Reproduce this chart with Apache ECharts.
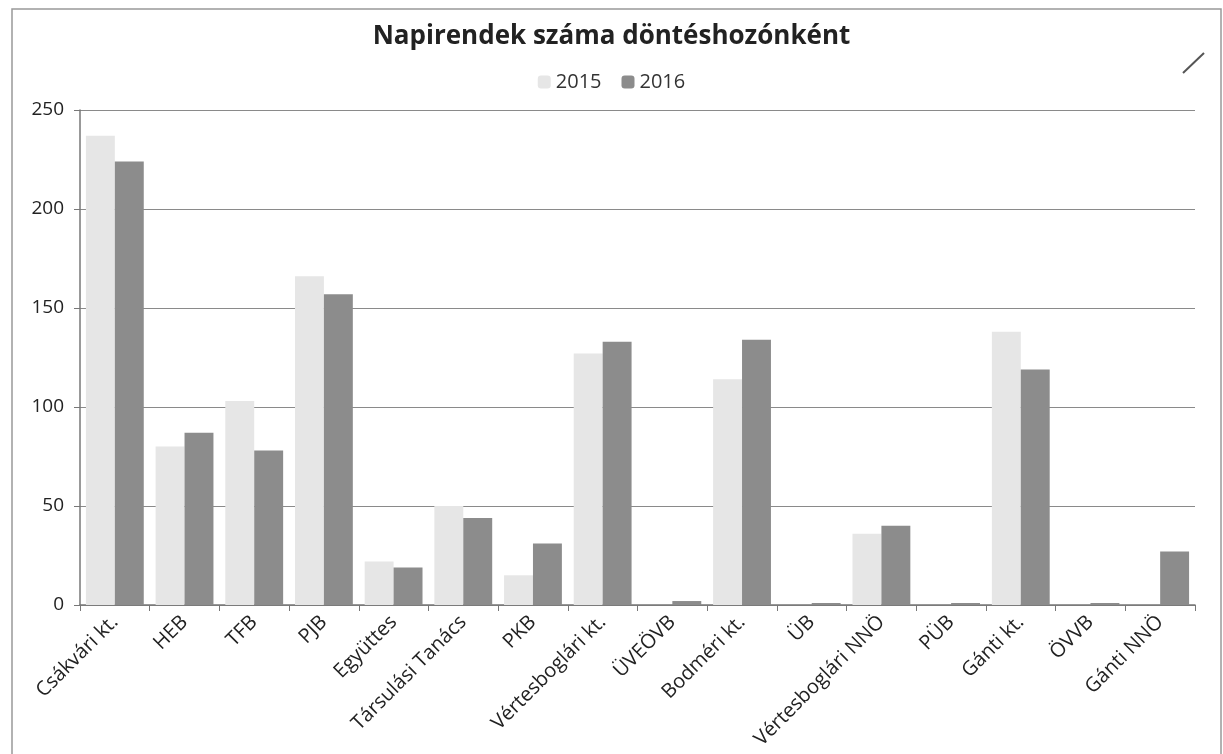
<!DOCTYPE html>
<html>
<head>
<meta charset="utf-8">
<script src="https://cdn.jsdelivr.net/npm/echarts@6/dist/echarts.min.js"></script>
<style>
html, body { margin: 0; padding: 0; background: #fff; }
#chart { width: 1223px; height: 754px; }
</style>
</head>
<body>
<div id="chart"></div>
<script>
var categories = ['Csákvári kt.', 'HEB', 'TFB', 'PJB', 'Együttes', 'Társulási Tanács', 'PKB',
	'Vértesboglári kt.', 'ÜVEÖVB', 'Bodméri kt.', 'ÜB', 'Vértesboglári NNÖ', 'PÜB',
	'Gánti kt.', 'ÖVVB', 'Gánti NNÖ'];
var values2015 = [237, 80, 103, 166, 22, 50, 15, 127, 0, 114, 0, 36, 0, 138, 0, 0];
var values2016 = [224, 87, 78, 157, 19, 44, 31, 133, 2, 134, 1, 40, 1, 119, 1, 27];
var yTicks = [0, 50, 100, 150, 200, 250];

var font = '"Open Sans", "Noto Sans", sans-serif';
var myChart = echarts.init(document.getElementById('chart'));
var option = {
	backgroundColor: '#fff',
	color: ['#e6e6e6', '#8c8c8c'],
	title: {
		text: 'Napirendek száma döntéshozónként',
		left: 'center',
		top: 19,
		textStyle: { fontFamily: font, fontSize: 26, fontWeight: 'bold', color: '#222' }
	},
	legend: {
		data: ['2015', '2016'],
		top: 67,
		left: 'center',
		itemWidth: 13,
		itemHeight: 13,
		itemGap: 20,
		textStyle: { fontFamily: font, fontSize: 20, color: '#333' }
	},
	grid: { left: 80, right: 28, top: 110, bottom: 149 },
	xAxis: {
		type: 'category',
		data: categories,
		axisLine: { lineStyle: { color: '#777', width: 1.5 } },
		axisTick: { show: true, alignWithLabel: false, length: 6, lineStyle: { color: '#777' } },
		axisLabel: { rotate: 45, interval: 0, fontFamily: font, fontSize: 20, color: '#222', margin: 14 }
	},
	yAxis: {
		type: 'value',
		min: yTicks[0],
		max: yTicks[yTicks.length - 1],
		interval: yTicks[1] - yTicks[0],
		axisLine: { show: true, lineStyle: { color: '#777', width: 1.5 } },
		axisTick: { show: true, inside: false, length: 6, lineStyle: { color: '#777' } },
		axisLabel: { fontFamily: font, fontSize: 19, color: '#222', margin: 16 },
		splitLine: { lineStyle: { color: '#8a8a8a', width: 1.2 } }
	},
	series: [
		{ name: '2015', type: 'bar', data: values2015, barGap: '0%', barCategoryGap: '17%' },
		{ name: '2016', type: 'bar', data: values2016, barGap: '0%', barCategoryGap: '17%' }
	],
	graphic: [
		{ type: 'rect', shape: { x: 12, y: 9, width: 1209, height: 750 }, style: { fill: 'none', stroke: '#999', lineWidth: 1.5 } },
		{ type: 'line', shape: { x1: 1183, y1: 73, x2: 1204, y2: 53 }, style: { stroke: '#555', lineWidth: 2 } }
	]
};
myChart.setOption(option);
</script>
</body>
</html>
